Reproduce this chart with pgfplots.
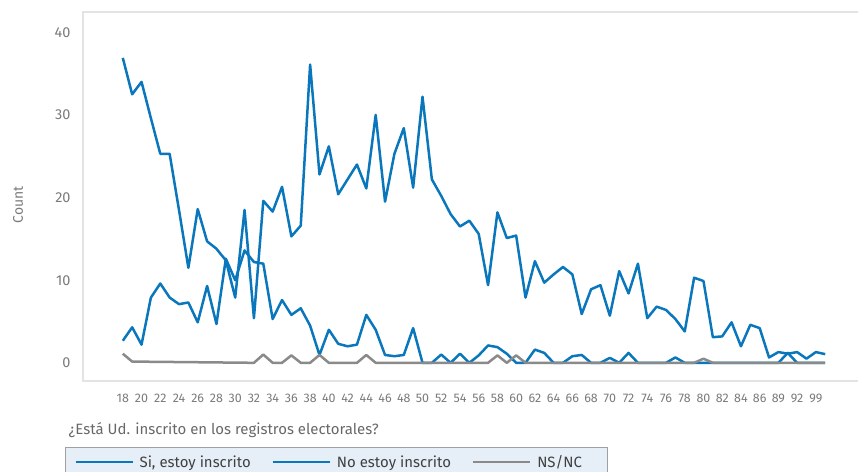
\documentclass[border=0pt]{standalone}
\usepackage{fontspec}
\setmainfont{Fira Sans}
\usepackage{pgfplots}
\pgfplotsset{compat=1.18}
\definecolor{serblue}{HTML}{0A77BD}
\definecolor{sergray}{HTML}{8A8A8A}
\definecolor{framegray}{HTML}{E3E3E3}
\definecolor{txtgray}{HTML}{7A7A7A}
\definecolor{legfill}{HTML}{E6EFF7}
\definecolor{legdraw}{HTML}{A0A0A0}

\begin{document}
\begin{tikzpicture}[x=1bp,y=1bp]
\path[use as bounding box] (0,0) rectangle (858,472);
\begin{axis}[
  at={(83bp,91bp)}, anchor=south west,
  scale only axis, width=775bp, height=369bp,
  xmin=-4.25, xmax=78.5, ymin=-2.2, ymax=42.46,
  axis line style={draw=none},
  tick style={draw=none},
  ytick={0,10,20,30,40},
  xtick={0,2,...,74},
  xticklabels={18,20,22,24,26,28,30,32,34,36,38,40,42,44,46,48,50,52,54,56,58,60,62,64,66,68,70,72,74,76,78,80,82,84,86,89,92,99},
  yticklabel style={font=\fontsize{14.5}{14.5}\selectfont, text=txtgray, xshift=-9bp},
  xticklabel style={font=\fontsize{12.5}{12.5}\selectfont, text=txtgray, yshift=-10bp},
  /pgf/number format/assume math mode=true,
  ylabel={Count},
  ylabel style={at={(axis description cs:-0.0839,0.477)}, anchor=center, font=\fontsize{14}{14}\selectfont, text=txtgray},
  xlabel={¿Está Ud. inscrito en los registros electorales?},
  xlabel style={at={(axis description cs:-0.0232,-0.133)}, anchor=west, font=\fontsize{15}{15}\selectfont, text=txtgray!85!black},
  legend columns=3,
  legend style={at={(axis description cs:-0.0232,-0.179)}, anchor=north west,
    fill=legfill, draw=legdraw, line width=0.8bp,
    font=\fontsize{15}{15}\selectfont, text=black!75,
    inner xsep=9bp, inner ysep=6bp,
    /tikz/every even column/.append style={column sep=19bp},
    /tikz/every odd column/.append style={column sep=4bp}},
  legend image code/.code={\draw[#1, line width=2.2bp] (0bp,0bp) -- (57bp,0bp);},
  clip=false,
]
% Si, estoy inscrito
\addplot[serblue, line width=2.5bp, line join=round] coordinates {
(0,36.9) (1,32.5) (2,34.0) (3,29.6) (4,25.3) (5,25.3) (6,18.5) (7,11.5)
(8,18.6) (9,14.7) (10,13.8) (11,12.4) (12,7.9) (13,18.5) (14,5.4) (15,19.6)
(16,18.3) (17,21.3) (18,15.3) (19,16.6) (20,36.1) (21,22.8) (22,26.2) (23,20.4)
(24,22.2) (25,24.0) (26,21.1) (27,30.0) (28,19.5) (29,25.3) (30,28.4) (31,21.2)
(32,32.2) (33,22.2) (34,20.2) (35,18.0) (36,16.5) (37,17.2) (38,15.6) (39,9.4)
(40,18.2) (41,15.1) (42,15.4) (43,7.9) (44,12.3) (45,9.7) (46,10.7) (47,11.6)
(48,10.7) (49,5.9) (50,8.9) (51,9.4) (52,5.7) (53,11.1) (54,8.4) (55,12.0)
(56,5.4) (57,6.8) (58,6.4) (59,5.3) (60,3.8) (61,10.3) (62,9.9) (63,3.1)
(64,3.2) (65,4.9) (66,2.0) (67,4.6) (68,4.2) (69,0.65) (70,1.3) (71,1.1)
(72,1.3) (73,0.5) (74,1.3) (75,1.05)
};
\addlegendentry{Si, estoy inscrito}
% No estoy inscrito
\addplot[serblue, line width=2.5bp, line join=round] coordinates {
(0,2.67) (1,4.3) (2,2.2) (3,7.9) (4,9.6) (5,7.9) (6,7.1) (7,7.3)
(8,4.9) (9,9.3) (10,4.7) (11,12.6) (12,10.0) (13,13.6) (14,12.2) (15,12.0)
(16,5.3) (17,7.6) (18,5.8) (19,6.6) (20,4.5) (21,0.95) (22,4.0) (23,2.3)
(24,2.0) (25,2.2) (26,5.8) (27,4.0) (28,0.95) (29,0.8) (30,0.95) (31,4.2)
(32,0) (33,0) (34,1.0) (35,0) (36,1.1) (37,0) (38,0.9) (39,2.1)
(40,1.9) (41,1.1) (42,0) (43,0) (44,1.6) (45,1.2) (46,0) (47,0)
(48,0.8) (49,0.95) (50,0) (51,0) (52,0.6) (53,0) (54,1.2) (55,0)
(56,0) (57,0) (58,0) (59,0.65) (60,0) (61,0) (62,0) (63,0)
(64,0) (65,0) (66,0) (67,0) (68,0) (69,0) (70,0) (71,1.2)
(72,0) (73,0) (74,0) (75,0)
};
\addlegendentry{No estoy inscrito}
% NS/NC
\addplot[sergray, line width=2.5bp, line join=round] coordinates {
(0,1.1) (1,0.15) (14,0) (15,1.0) (16,0) (17,0) (18,0.9) (19,0)
(20,0) (21,0.95) (22,0) (23,0) (24,0) (25,0) (26,0.95) (27,0)
(28,0) (29,0) (30,0) (31,0) (32,0) (33,0) (34,0) (35,0)
(36,0) (37,0) (38,0) (39,0) (40,0.9) (41,0) (42,0.9) (43,0)
(44,0) (45,0) (46,0) (47,0) (48,0) (49,0) (50,0) (51,0)
(52,0) (53,0) (54,0) (55,0) (56,0) (57,0) (58,0) (59,0)
(60,0) (61,0) (62,0.5) (63,0) (64,0) (65,0) (66,0) (67,0)
(68,0) (69,0) (70,0) (71,0) (72,0) (73,0) (74,0) (75,0)
};
\addlegendentry{NS/NC\kern14bp\relax}
\draw[framegray, line width=2.2bp] (rel axis cs:1,1) -- (rel axis cs:0,1) -- (rel axis cs:0,0) -- (rel axis cs:1,0);
\end{axis}
\end{tikzpicture}
\end{document}
